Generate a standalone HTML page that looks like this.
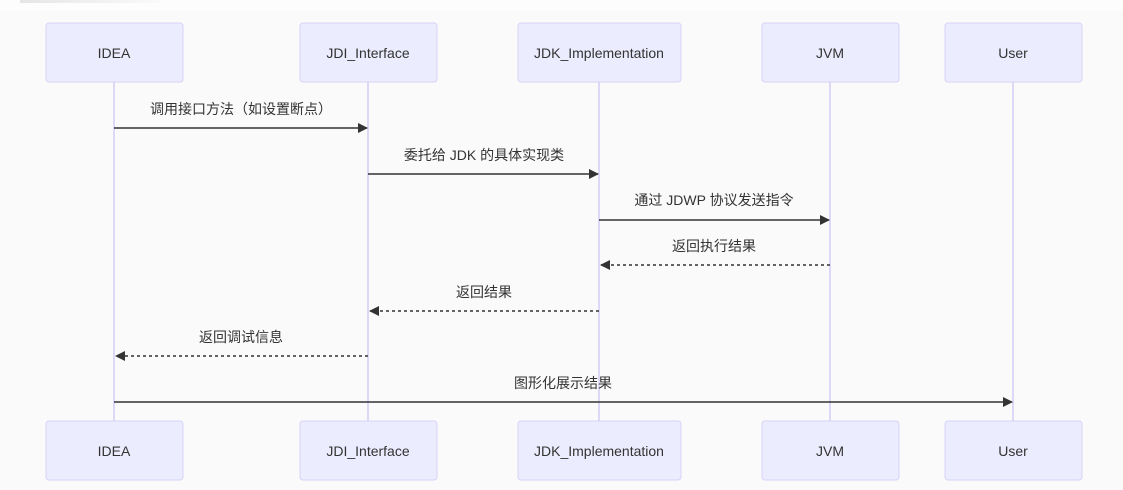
<!DOCTYPE html>
<html><head><meta charset="utf-8"><style>
html,body{margin:0;padding:0;background:#fff;}
svg{display:block;font-family:"Liberation Sans","Noto Sans CJK SC",sans-serif;}
</style></head><body>
<svg width="1123" height="490" viewBox="0 0 1123 490" xmlns="http://www.w3.org/2000/svg">
<defs>
<marker id="a" markerWidth="10" markerHeight="10" refX="9" refY="5" orient="auto" markerUnits="userSpaceOnUse"><path d="M0,0 L10,5 L0,10 z" fill="#333"/></marker>
<linearGradient id="g" x1="0" x2="1"><stop offset="0" stop-color="#e6e6e6"/><stop offset="1" stop-color="#fafafa"/></linearGradient>
</defs>
<rect x="0" y="0" width="1123" height="490" fill="#fafafa"/>
<rect x="0" y="0" width="1123" height="10" fill="#fdfdfd"/>
<rect x="20" y="0" width="140" height="3" fill="url(#g)"/>
<g stroke="#d4ccf4" stroke-width="1.5">
<line x1="114" y1="82" x2="114" y2="421"/>
<line x1="368" y1="82" x2="368" y2="421"/>
<line x1="599" y1="82" x2="599" y2="421"/>
<line x1="830" y1="82" x2="830" y2="421"/>
<line x1="1013" y1="82" x2="1013" y2="421"/>
</g>
<g fill="#ececff" stroke="#d6d2f6" stroke-width="1">
<rect x="46" y="23" width="137" height="59" rx="3"/>
<rect x="300" y="23" width="137" height="59" rx="3"/>
<rect x="518" y="23" width="163" height="59" rx="3"/>
<rect x="762" y="23" width="137" height="59" rx="3"/>
<rect x="945" y="23" width="137" height="59" rx="3"/>
<rect x="46" y="421" width="137" height="59" rx="3"/>
<rect x="300" y="421" width="137" height="59" rx="3"/>
<rect x="518" y="421" width="163" height="59" rx="3"/>
<rect x="762" y="421" width="137" height="59" rx="3"/>
<rect x="945" y="421" width="137" height="59" rx="3"/>
</g>
<g font-size="14" fill="#333" text-anchor="middle">
<text x="114" y="58">IDEA</text><text x="368" y="58">JDI_Interface</text><text x="599" y="58">JDK_Implementation</text><text x="830" y="58">JVM</text><text x="1013" y="58">User</text>
<text x="114" y="456">IDEA</text><text x="368" y="456">JDI_Interface</text><text x="599" y="456">JDK_Implementation</text><text x="830" y="456">JVM</text><text x="1013" y="456">User</text>
<text x="241" y="114">调用接口方法（如设置断点）</text>
<text x="484" y="160">委托给 JDK 的具体实现类</text>
<text x="714" y="205">通过 JDWP 协议发送指令</text>
<text x="714" y="251">返回执行结果</text>
<text x="484" y="297">返回结果</text>
<text x="241" y="342">返回调试信息</text>
<text x="563" y="388">图形化展示结果</text>
</g>
<g stroke="#333" stroke-width="1.5" fill="none">
<line x1="114" y1="128" x2="367" y2="128" marker-end="url(#a)"/>
<line x1="368" y1="174" x2="598" y2="174" marker-end="url(#a)"/>
<line x1="599" y1="220" x2="829" y2="220" marker-end="url(#a)"/>
<line x1="830" y1="265" x2="601" y2="265" stroke-dasharray="3,3" marker-end="url(#a)"/>
<line x1="599" y1="311" x2="370" y2="311" stroke-dasharray="3,3" marker-end="url(#a)"/>
<line x1="368" y1="356" x2="116" y2="356" stroke-dasharray="3,3" marker-end="url(#a)"/>
<line x1="114" y1="402" x2="1012" y2="402" marker-end="url(#a)"/>
</g>
</svg>
</body></html>
